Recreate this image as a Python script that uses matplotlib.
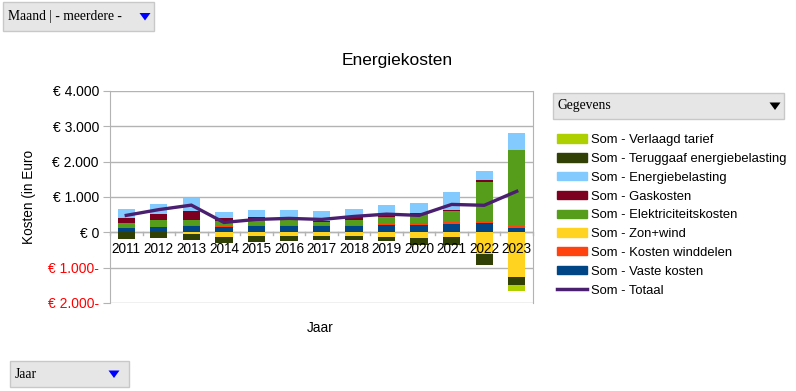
import numpy as np
import matplotlib
matplotlib.use("Agg")
import matplotlib.pyplot as plt
from matplotlib.patches import Rectangle, Polygon
from matplotlib.lines import Line2D
from matplotlib.ticker import FuncFormatter

plt.rcParams['font.family'] = ['Liberation Sans', 'DejaVu Sans']

years = ['2011', '2012', '2013', '2014', '2015', '2016', '2017', '2018', '2019', '2020', '2021', '2022', '2023']

vaste_kosten      = [130, 150, 180, 160, 190, 180, 180, 180, 210, 220, 245, 255, 122]
kosten_winddelen  = [0, 0, 15, 15, 10, 28, 28, 28, 28, 45, 45, 57, 68]
zon_wind          = [0, 0, -55, -140, -105, -100, -90, -90, -130, -150, -120, -615, -1265]
elektriciteit     = [140, 210, 160, 150, 170, 170, 95, 140, 190, 265, 310, 1125, 2133]
gaskosten         = [140, 170, 235, 90, 70, 48, 30, 75, 65, 15, 38, 57, 0]
energiebelasting  = [240, 283, 393, 160, 190, 218, 265, 237, 272, 295, 504, 234, 500]
teruggaaf         = [-180, -170, -170, -150, -160, -140, -140, -140, -125, -210, -240, -320, -236]
verlaagd_tarief   = [0, 0, 0, 0, 0, 0, 0, 0, 0, 0, 0, 0, -160]
totaal            = [480, 643, 770, 280, 365, 395, 365, 450, 515, 480, 790, 765, 1162]

series = [
    ('Som - Vaste kosten', vaste_kosten, '#004586'),
    ('Som - Kosten winddelen', kosten_winddelen, '#ff420e'),
    ('Som - Zon+wind', zon_wind, '#ffd320'),
    ('Som - Elektriciteitskosten', elektriciteit, '#579d1c'),
    ('Som - Gaskosten', gaskosten, '#7e0021'),
    ('Som - Energiebelasting', energiebelasting, '#83caff'),
    ('Som - Teruggaaf energiebelasting', teruggaaf, '#314004'),
    ('Som - Verlaagd tarief', verlaagd_tarief, '#aecf00'),
]

W, H = 796, 391
fig = plt.figure(figsize=(W / 100, H / 100), dpi=100)
fig.patch.set_facecolor('white')

def fx(px):
    return px / W

def fy(py):
    return 1 - py / H

ax = fig.add_axes([fx(110), fy(303), fx(533) - fx(110), fy(91) - fy(303)])

x = np.arange(len(years))
pos_bottom = np.zeros(len(years))
neg_bottom = np.zeros(len(years))
for name, vals, col in series:
    v = np.array(vals, dtype=float)
    bottom = np.where(v >= 0, pos_bottom, neg_bottom)
    ax.bar(x, v, width=0.53, bottom=bottom, color=col, zorder=3)
    pos_bottom = pos_bottom + np.where(v >= 0, v, 0)
    neg_bottom = neg_bottom + np.where(v < 0, v, 0)

ax.plot(x, totaal, color='#4b1f6f', lw=2.4, zorder=4, solid_joinstyle='miter')

ax.set_xlim(-0.5, len(years) - 0.5)
ax.set_ylim(-2000, 4000)
ax.set_yticks(np.arange(-2000, 4001, 1000))
ax.grid(axis='y', color='#b3b3b3', lw=1, zorder=0)

def fmt(v, pos):
    n = int(round(abs(v)))
    s = '€ ' + f'{n:,}'.replace(',', '.')
    if v < 0:
        s += '-'
    return s

ax.yaxis.set_major_formatter(FuncFormatter(fmt))
for lab, val in zip(ax.get_yticklabels(), ax.get_yticks()):
    if val < 0:
        lab.set_color('#ff0000')
ax.tick_params(axis='y', length=5, color='#b3b3b3', labelsize=10, pad=3)

# category axis at zero
for s in ['top', 'bottom']:
    ax.spines[s].set_visible(False)
ax.spines['left'].set_color('#b3b3b3')
ax.spines['right'].set_color('#b3b3b3')
ax.axhline(0, color='#b3b3b3', lw=1, zorder=2)
ax.set_xticks(x)
ax.set_xticklabels([])
ax.tick_params(axis='x', length=0)
for xi, yr in zip(x, years):
    ax.annotate(yr, (xi, 0), xytext=(0, -10), textcoords='offset pixels',
                ha='center', va='top', fontsize=9.8, zorder=6, annotation_clip=False)
for b in np.arange(-0.5, len(years), 1.0):
    ax.plot([b, b], [0, -75], color='#b3b3b3', lw=1, zorder=2, clip_on=False)

fig.text(fx(397), fy(61), 'Energiekosten', ha='center', va='center', fontsize=12.5)
fig.text(fx(29), fy(197), 'Kosten (in Euro', ha='center', va='center', rotation=90, fontsize=9.8)
fig.text(fx(320), fy(328), 'Jaar', ha='center', va='center', fontsize=9.8)

# legend
handles = [Rectangle((0, 0), 1, 1, color=c) for _, _, c in reversed(series)]
labels = [n for n, _, _ in reversed(series)]
handles.append(Line2D([0], [0], color='#4b1f6f', lw=2.5))
labels.append('Som - Totaal')
fig.legend(handles, labels, loc='upper left', bbox_to_anchor=(fx(552), fy(129)),
           frameon=False, fontsize=9.4, handlelength=2.3, handleheight=0.6,
           handletextpad=0.3, labelspacing=0.52, borderaxespad=0)

# dropdown boxes
def dropdown(x0, y0, x1, y1, text, tri_color, tx):
    fig.add_artist(Rectangle((fx(x0), fy(y1)), fx(x1) - fx(x0), fy(y0) - fy(y1),
                             transform=fig.transFigure, facecolor='#e6e6e6',
                             edgecolor='#c8c8c8', lw=1))
    fig.text(fx(x0 + 5), fy((y0 + y1) / 2), text, ha='left', va='center',
             fontsize=9.8, family=['Liberation Serif', 'DejaVu Serif'])
    ty = (y0 + y1) / 2
    tri = Polygon([(fx(tx - 5.5), fy(ty - 3.5)), (fx(tx + 5.5), fy(ty - 3.5)), (fx(tx), fy(ty + 4))],
                  closed=True, transform=fig.transFigure, facecolor=tri_color, edgecolor='none')
    fig.add_artist(tri)

dropdown(3, 2, 154, 31, 'Maand | - meerdere -', '#0000ff', 145)
dropdown(10, 361, 129, 387, 'Jaar', '#0000ff', 114)
dropdown(553, 93, 784, 119, 'Gegevens', '#000000', 775)

fig.savefig('out.png', dpi=100)
